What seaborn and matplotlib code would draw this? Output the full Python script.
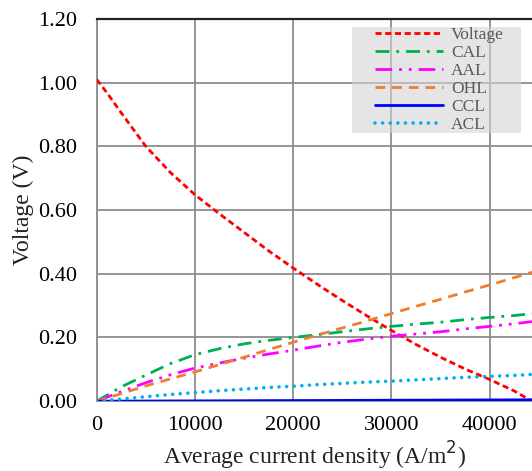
import matplotlib
matplotlib.use("Agg")
import matplotlib.pyplot as plt
from matplotlib.patches import Rectangle
import seaborn as sns
import pandas as pd

current = [0, 1000, 2500, 5000, 7500, 10000, 12500, 15000, 17500, 20000, 22500, 25000,
           27500, 30000, 32500, 35000, 37500, 40000, 42500, 44300]
voltage = [1.01, 0.97, 0.905, 0.80, 0.718, 0.648, 0.588, 0.53, 0.472, 0.418, 0.366, 0.316,
           0.268, 0.222, 0.178, 0.138, 0.101, 0.068, 0.032, 0.0]
cal = [0.0, 0.018, 0.045, 0.082, 0.118, 0.146, 0.165, 0.18, 0.191, 0.200, 0.209, 0.218,
       0.227, 0.235, 0.242, 0.248, 0.256, 0.263, 0.269, 0.275]
aal = [0.0, 0.012, 0.03, 0.058, 0.083, 0.104, 0.12, 0.135, 0.148, 0.16, 0.173, 0.185,
       0.195, 0.204, 0.211, 0.218, 0.227, 0.235, 0.243, 0.25]
ohl = [0.0, 0.009, 0.024, 0.048, 0.07, 0.092, 0.115, 0.138, 0.162, 0.185, 0.208, 0.23,
       0.252, 0.275, 0.298, 0.32, 0.343, 0.365, 0.388, 0.405]
ccl = [0.0, 0.0001, 0.0003, 0.0005, 0.0008, 0.001, 0.0012, 0.0015, 0.0018, 0.002, 0.0022, 0.0025,
       0.0028, 0.003, 0.0032, 0.0035, 0.0038, 0.004, 0.0042, 0.0044]
acl = [0.0, 0.003, 0.007, 0.014, 0.021, 0.027, 0.033, 0.038, 0.043, 0.047, 0.052, 0.056,
       0.06, 0.063, 0.067, 0.071, 0.075, 0.078, 0.081, 0.084]

xticks = [0, 10000, 20000, 30000, 40000]
yticks = [0.0, 0.2, 0.4, 0.6, 0.8, 1.0, 1.2]

series = [
    ("Voltage", voltage, "#ff0000", (2.2, 1.3), "butt", 2.0),
    ("CAL", cal, "#00b050", (5, 2.5, 1, 2.5), "butt", 2.0),
    ("AAL", aal, "#ff00ff", (6, 2.5, 1, 2.5, 1, 2.5), "butt", 2.0),
    ("OHL", ohl, "#ed7d31", (3.5, 2.5), "butt", 2.0),
    ("CCL", ccl, "#0000ff", None, "butt", 2.0),
    ("ACL", acl, "#00b0f0", (0.01, 2.1), "round", 2.6),
]

sns.set_style("white")
plt.rcParams["font.family"] = ["Liberation Serif", "DejaVu Serif"]

fig = plt.figure(figsize=(5.32, 4.71), dpi=100)
ax = fig.add_axes([0.1818, 0.1482, 0.8182, 0.8115])

for name, vals, col, dash, cap, lw in series:
    df = pd.DataFrame({"x": current, "y": vals})
    sns.lineplot(data=df, x="x", y="y", ax=ax, color=col, linewidth=lw, label=name, zorder=3)
    ln = ax.lines[-1]
    if dash is not None:
        ln.set_dashes(dash)
    ln.set_dash_capstyle(cap)

ax.set_xlim(0, 44300)
ax.set_ylim(0, 1.2)
ax.set_xticks(xticks)
ax.set_yticks(yticks)
ax.set_yticklabels([f"{v:.2f}" for v in yticks])
ax.grid(True, color="#8c8c8c", linewidth=1.3, zorder=0)
ax.set_axisbelow(True)
ax.tick_params(axis="y", length=0, labelsize=16, colors="black", pad=14)
ax.tick_params(axis="x", length=0, labelsize=16, colors="black", pad=11)
ax.set_xlabel("Average current density (A/m$^2$)", fontsize=17, labelpad=3)
ax.set_ylabel("Voltage (V)", fontsize=17, labelpad=3)
ax.xaxis.label.set_color("#222222")
ax.yaxis.label.set_color("#222222")

for s in ["left", "bottom"]:
    ax.spines[s].set_color("#8c8c8c")
    ax.spines[s].set_linewidth(1.3)
ax.spines["top"].set_color("#222222")
ax.spines["top"].set_linewidth(1.6)
ax.spines["right"].set_visible(False)

# legend background box (semi-transparent, grid shows through)
ax.add_patch(Rectangle((0.5865, 0.7017), 0.3882, 0.2773, transform=ax.transAxes,
                       facecolor="#d4d4d4", alpha=0.6, edgecolor="none", zorder=2))

leg = ax.legend(loc="upper left", bbox_to_anchor=(0.6395, 0.979), fontsize=12.5,
                handlelength=3.9, handletextpad=0.46, labelspacing=0.1,
                borderpad=0, borderaxespad=0, frameon=False)
leg.set_zorder(5)
for t in leg.get_texts():
    t.set_color("#595959")

fig.savefig("out.png", dpi=100)
